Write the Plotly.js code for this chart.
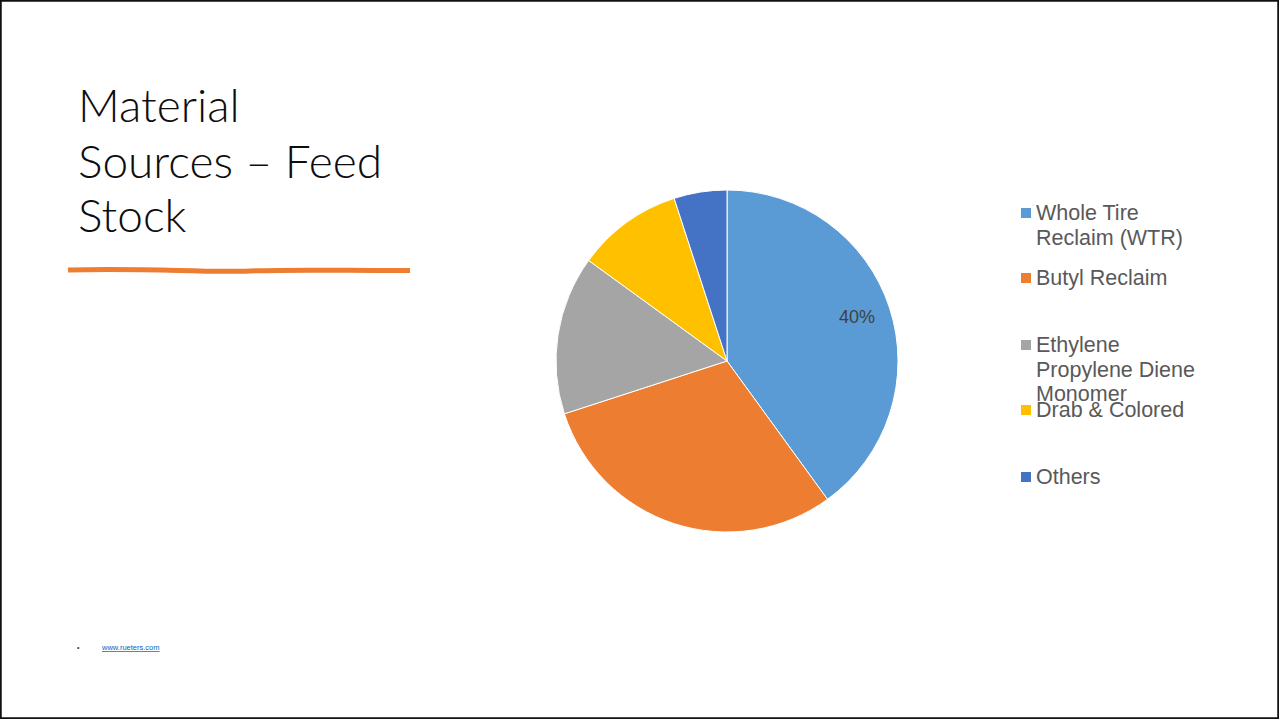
<!DOCTYPE html>
<html><head><meta charset="utf-8">
<script src="https://cdn.plot.ly/plotly-3.0.1.min.js"></script>
<style>html,body{margin:0;padding:0;background:#fff;}#c{width:1279px;height:719px;}</style>
</head><body><div id="c"></div>
<script>
var categories = ["Whole Tire Reclaim (WTR)", "Butyl Reclaim", "Ethylene Propylene Diene Monomer", "Drab & Colored", "Others"];
var legendLabels = [["Whole Tire", "Reclaim (WTR)"], ["Butyl Reclaim"], ["Ethylene", "Propylene Diene", "Monomer"], ["Drab & Colored"], ["Others"]];
var shares = [40, 30, 15, 10, 5];
var showLabel = [true, false, false, false, false];
var colors = ["#5B9BD5", "#ED7D31", "#A5A5A5", "#FFC000", "#4472C4"];
var titleLines = ["Material", "Sources \u2013 Feed", "Stock"];
var footerLink = "www.rueters.com";

var W = 1279, H = 719;
function px(x){return x / W;}
function py(y){return 1 - y / H;}

var cx = 727, cy = 361, r = 171;
var trace = {
  type: "pie",
  labels: categories,
  values: shares,
  sort: false,
  direction: "clockwise",
  rotation: 0,
  marker: {colors: colors, line: {color: "#ffffff", width: 1}},
  textinfo: "none",
  hoverinfo: "label+percent",
  showlegend: false,
  domain: {x: [px(cx - r), px(cx + r)], y: [py(cy + r), py(cy - r)]}
};

var annotations = [];
var shapes = [];

// Data labels placed at each slice's mid-angle (only where the reference shows one)
var total = shares.reduce(function(a, b){return a + b;}, 0);
var cum = 0;
shares.forEach(function(v, i){
  var mid = (cum + v / 2) / total * 2 * Math.PI;
  cum += v;
  if (!showLabel[i]) return;
  var rr = 0.8 * r;
  annotations.push({
    xref: "paper", yref: "paper", x: px(cx + rr * Math.sin(mid)), y: py(cy - rr * Math.cos(mid) - 2),
    xanchor: "center", yanchor: "middle", showarrow: false,
    text: Math.round(v / total * 100) + "%",
    font: {family: "Liberation Sans, Arial, sans-serif", size: 18, color: "#404040"}
  });
});

// Title lines
var titleMid = [105, 160, 214];
titleLines.forEach(function(t, i){
  annotations.push({
    xref: "paper", yref: "paper", x: px(76), y: py(titleMid[i]),
    xanchor: "left", yanchor: "middle", showarrow: false, text: t,
    font: {family: "Lato, 'Open Sans', sans-serif", size: 46, color: "#0d0d0d", weight: 300}
  });
});

// Legend (drawn manually)
var legendFirstLine = [213, 278, 345, 410, 477];
var lineGap = 24.5;
legendLabels.forEach(function(lines, i){
  var y0 = legendFirstLine[i];
  shapes.push({type: "rect", xref: "paper", yref: "paper",
    x0: px(1021), x1: px(1031), y0: py(y0 + 5), y1: py(y0 - 5),
    fillcolor: colors[i], line: {width: 0}});
  lines.forEach(function(l, j){
    annotations.push({
      xref: "paper", yref: "paper", x: px(1034), y: py(y0 + j * lineGap),
      xanchor: "left", yanchor: "middle", showarrow: false, text: l,
      font: {family: "Liberation Sans, Arial, sans-serif", size: 21.5, color: "#595959"}
    });
  });
});

// Footer
annotations.push({xref: "paper", yref: "paper", x: px(78), y: py(647), xanchor: "center", yanchor: "middle",
  showarrow: false, text: "\u2022", font: {family: "Liberation Sans, Arial", size: 7, color: "#333"}});
annotations.push({xref: "paper", yref: "paper", x: px(99), y: py(647), xanchor: "left", yanchor: "middle",
  showarrow: false, text: "<a href='http://www.rueters.com' style='color:#0563C1'><u>" + footerLink + "</u></a>",
  font: {family: "Liberation Sans, Arial", size: 7.5, color: "#0563C1"}});

// Orange underline stroke
shapes.push({type: "path", xref: "paper", yref: "paper", layer: "above",
  path: "M " + px(68) + "," + py(270) + " C " + px(150) + "," + py(267.5) + " " + px(200) + "," + py(273) + " " + px(250) + "," + py(271) +
        " C " + px(300) + "," + py(269) + " " + px(360) + "," + py(271) + " " + px(410) + "," + py(270.5),
  line: {color: "#ED7D31", width: 5}});

// Slide border
shapes.push({type: "rect", xref: "paper", yref: "paper", x0: 0, x1: 1, y0: 0, y1: 1,
  line: {color: "#111111", width: 3.5}, fillcolor: "rgba(0,0,0,0)"});

var layout = {
  width: W, height: H,
  margin: {l: 0, r: 0, t: 0, b: 0, pad: 0},
  paper_bgcolor: "#ffffff",
  showlegend: false,
  annotations: annotations,
  shapes: shapes
};
Plotly.newPlot("c", [trace], layout, {displayModeBar: false, staticPlot: true});
</script></body></html>
